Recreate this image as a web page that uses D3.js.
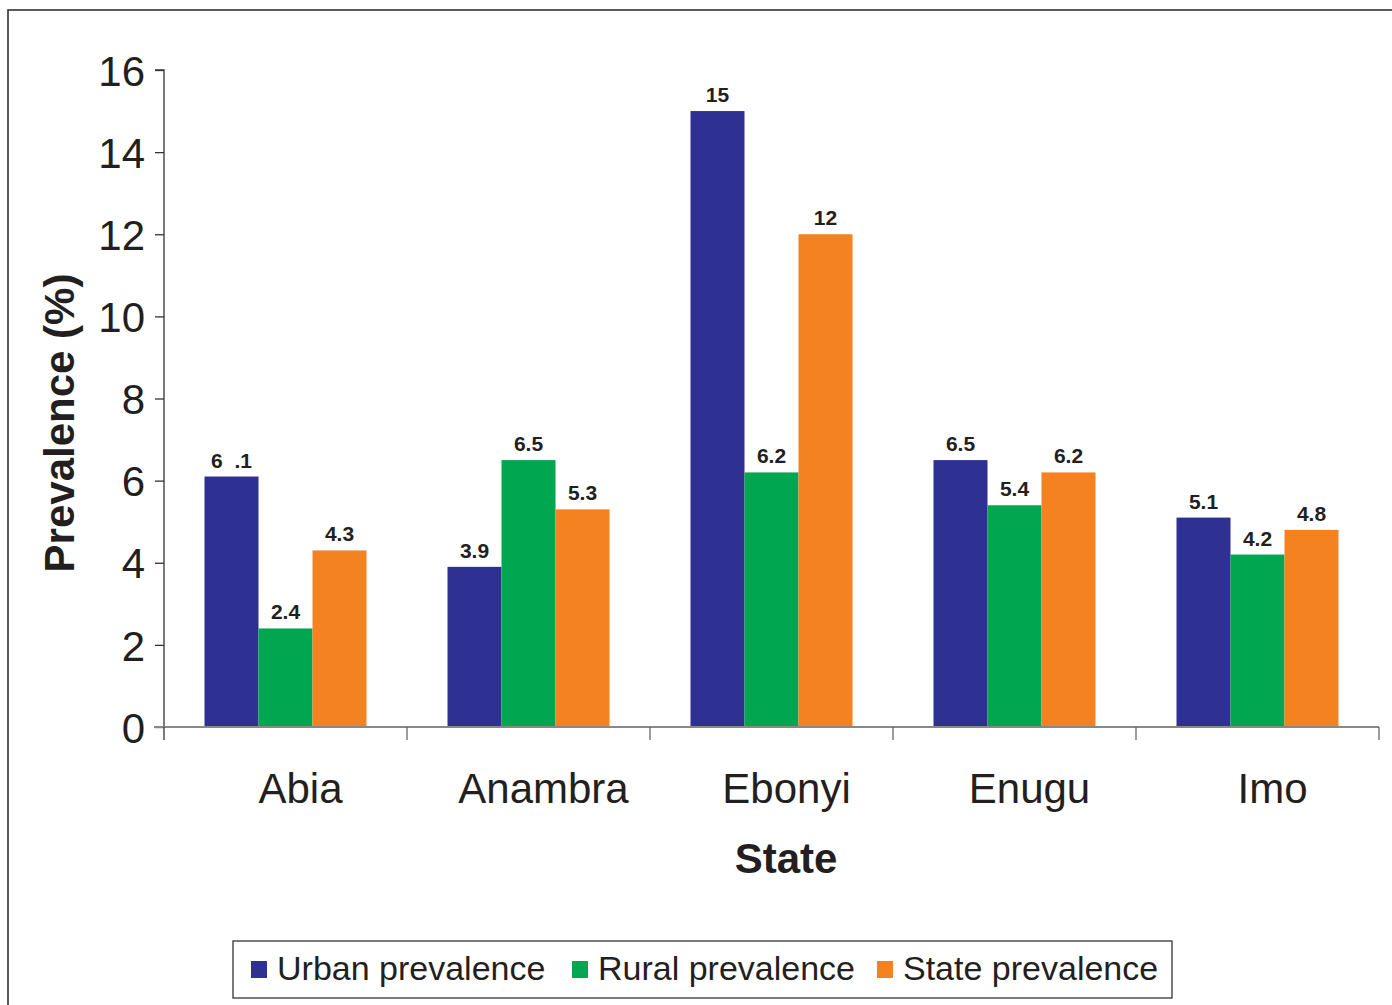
<!DOCTYPE html>
<html><head><meta charset="utf-8">
<script src="https://d3js.org/d3.v7.min.js"></script>
<style>body{margin:0;background:#fff;} text{font-family:"Liberation Sans",Arial,sans-serif;}</style>
</head><body>
<svg id="c" width="1392" height="1005"></svg>
<script>
const categories = ["Abia","Anambra","Ebonyi","Enugu","Imo"];
const seriesNames = ["Urban prevalence","Rural prevalence","State prevalence"];
const urban = [6.1,3.9,15,6.5,5.1];
const rural = [2.4,6.5,6.2,5.4,4.2];
const stateVals = [4.3,5.3,12,6.2,4.8];
const urbanLabels = ["6  .1","3.9","15","6.5","5.1"];
const ruralLabels = ["2.4","6.5","6.2","5.4","4.2"];
const stateLabels = ["4.3","5.3","12","6.2","4.8"];
const yTicks = [0,2,4,6,8,10,12,14,16];
const colors = ["#2E3192","#00A650","#F58220"];

const series = [urban, rural, stateVals];
const labels = [urbanLabels, ruralLabels, stateLabels];

const svg = d3.select("#c");
// outer frame
svg.append("rect").attr("x",8).attr("y",10).attr("width",1400).attr("height",1010)
  .attr("fill","none").attr("stroke","#333").attr("stroke-width",1.6);

const pLeft=164, pRight=1379, pTop=70, pBottom=727;
const x = d3.scaleBand().domain(categories).range([pLeft,pRight]).paddingInner(0).paddingOuter(0);
const x1 = d3.scaleBand().domain([0,1,2]).range([0,x.bandwidth()]).paddingInner(0).paddingOuter(0.75);
const y = d3.scaleLinear().domain([0,16]).range([pBottom,pTop]);

// bars
categories.forEach((c,i)=>{
  series.forEach((s,j)=>{
    svg.append("rect").attr("x",x(c)+x1(j)).attr("y",y(s[i]))
      .attr("width",x1.bandwidth()).attr("height",y(0)-y(s[i])).attr("fill",colors[j]);
    svg.append("text").attr("x",x(c)+x1(j)+x1.bandwidth()/2).attr("y",y(s[i])-9)
      .attr("text-anchor","middle").attr("font-size",21).attr("font-weight","bold").attr("fill","#231f20")
      .style("white-space","pre")
      .text(labels[j][i]);
  });
});

// y axis
const yAxis = d3.axisLeft(y).tickValues(yTicks).tickSize(9).tickPadding(10).tickFormat(d3.format("d"));
const gy = svg.append("g").attr("transform",`translate(${pLeft},0)`).call(yAxis);
gy.select(".domain").attr("stroke","#333").attr("stroke-width",1.3).attr("d",`M-9,${pTop}H0V${pBottom}`);
gy.selectAll(".tick line").attr("stroke","#333").attr("stroke-width",1.3);
gy.selectAll(".tick text").attr("font-size",42).attr("fill","#231f20").attr("dy","0.36em")
  .style("font-family","'Liberation Sans',Arial,sans-serif");

// x axis
const xAxis = d3.axisBottom(x).tickSize(0).tickPadding(46);
const gx = svg.append("g").attr("transform",`translate(0,${pBottom})`).call(xAxis);
gx.select(".domain").attr("stroke","#888").attr("stroke-width",2).attr("d",`M${pLeft-10},0H${pRight}`);
gx.selectAll(".tick text").attr("font-size",42).attr("fill","#231f20").attr("dx",15)
  .style("font-family","'Liberation Sans',Arial,sans-serif").attr("dy","0.71em");
// category boundary ticks
const bounds = categories.map(c=>x(c)).concat([pRight]);
svg.append("g").selectAll("line").data(bounds).join("line")
  .attr("x1",d=>d).attr("x2",d=>d).attr("y1",pBottom).attr("y2",pBottom+13)
  .attr("stroke",(d,i)=>i===0?"#333":"#666").attr("stroke-width",1.3);

// axis titles
svg.append("text").attr("x",786).attr("y",873).attr("text-anchor","middle")
  .attr("font-size",42).attr("font-weight","bold").attr("fill","#231f20").text("State");
svg.append("text").attr("transform","translate(74,423) rotate(-90)").attr("text-anchor","middle")
  .attr("font-size",42).attr("font-weight","bold").attr("fill","#231f20").text("Prevalence (%)");

// legend
const lg = svg.append("g");
lg.append("rect").attr("x",233).attr("y",941).attr("width",939).attr("height",57)
  .attr("fill","#fff").attr("stroke","#333").attr("stroke-width",1.3);
const legX = [251, 572, 877];
seriesNames.forEach((n,j)=>{
  lg.append("rect").attr("x",legX[j]).attr("y",961).attr("width",16).attr("height",17).attr("fill",colors[j]);
  lg.append("text").attr("x",legX[j]+26).attr("y",980).attr("font-size",34).attr("fill","#231f20").text(n);
});
</script>
</body></html>
